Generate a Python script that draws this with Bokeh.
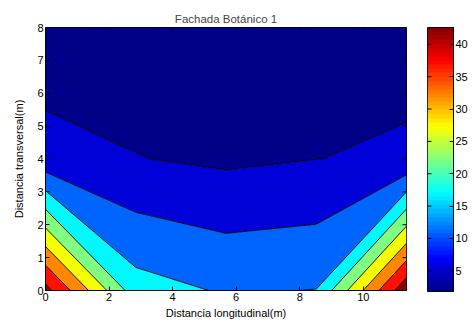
import numpy as np
from bokeh.plotting import figure
from bokeh.layouts import row
from bokeh.models import Range1d, FixedTicker, LinearColorMapper
from bokeh.embed import file_html
from bokeh.resources import INLINE

# ---- data ----
x_pos = [0.0, 2.84, 5.68, 8.52, 11.36]          # longitudinal positions (m)
y_pos = [0.0, 4.0, 8.0]                           # transversal positions (m)
z_y0 = [41.8, 17.1, 14.5, 15.11, 43.8]
z_y4 = [6.5, 5.16, 4.14, 4.97, 5.4]
z_y8 = [2.43, 1.8, 2.1, 2.4, 3.95]
levels = [1.0, 5, 10, 15, 20, 25, 30, 35, 40, 45]
fill_colors = ["#000088", "#0000d8", "#0064ff", "#00f8ff", "#80ff80",
               "#f4ff00", "#ff8800", "#ff1000", "#880000"]
x_ticks = [0, 2, 4, 6, 8, 10]
y_ticks = [0, 1, 2, 3, 4, 5, 6, 7, 8]
cbar_min, cbar_max = 1.8, 42.6
cbar_ticks = [5, 10, 15, 20, 25, 30, 35, 40]

FONT = "Liberation Sans"
FS = "11px"

def jet(n):
    cols = []
    for i in range(n):
        t = (i + 0.5) / n
        r = min(max(1.5 - abs(4 * t - 3), 0), 1)
        g = min(max(1.5 - abs(4 * t - 2), 0), 1)
        b = min(max(1.5 - abs(4 * t - 1), 0), 1)
        cols.append("#%02x%02x%02x" % (int(r * 255), int(g * 255), int(b * 255)))
    return cols

def style_axis(ax, ticks):
    ax.ticker = FixedTicker(ticks=ticks)
    ax.major_tick_in = 4
    ax.major_tick_out = 0
    ax.minor_tick_line_color = None
    ax.axis_line_color = "black"
    ax.major_tick_line_color = "black"
    ax.major_label_text_font = FONT
    ax.major_label_text_color = "black"
    ax.major_label_text_font_size = FS
    ax.major_label_standoff = 2
    ax.axis_label_text_font = FONT
    ax.axis_label_text_font_size = FS
    ax.axis_label_text_font_style = "normal"
    ax.axis_label_text_color = "black"

Z = np.array([z_y0, z_y4, z_y8])
x0, x1 = x_pos[0], x_pos[-1]
y0, y1 = y_pos[0], y_pos[-1]

p = figure(frame_width=361, frame_height=263,
           x_range=Range1d(x0, x1), y_range=Range1d(y0, y1),
           output_backend="svg", toolbar_location=None,
           title="Fachada Botánico 1",
           min_border_left=45, min_border_top=27, min_border_right=10, min_border_bottom=28)
p.title.text_font = FONT
p.title.text_font_size = "11.5px"
p.title.text_font_style = "normal"
p.title.align = "center"
p.title.standoff = 6
p.grid.visible = False
p.outline_line_color = "black"
p.background_fill_color = "white"
p.border_fill_color = "white"

p.contour(np.array(x_pos), np.array(y_pos), Z, levels,
          fill_color=fill_colors, line_color="black", line_width=0.9)

style_axis(p.xaxis[0], x_ticks)
p.xaxis[0].axis_label = "Distancia longitudinal(m)"
p.xaxis[0].axis_label_standoff = 3
style_axis(p.yaxis[0], y_ticks)
p.yaxis[0].axis_label = "Distancia transversal(m)"
p.yaxis[0].axis_label_standoff = 9

# mirrored inward ticks on top and right edges of the box
p.scatter(x=x_ticks, y=[y1] * len(x_ticks), marker="dash", size=8,
          angle=np.pi / 2, line_color="black", line_width=1)
p.scatter(x=[x1] * len(y_ticks), y=y_ticks, marker="dash", size=8,
          line_color="black", line_width=1)

# ---- colorbar ----
cb = figure(frame_width=26, frame_height=264,
            x_range=Range1d(0, 1), y_range=Range1d(cbar_min, cbar_max),
            output_backend="svg", toolbar_location=None, y_axis_location="right",
            min_border_left=11, min_border_top=27, min_border_right=4, min_border_bottom=28)
cb.grid.visible = False
cb.xaxis.visible = False
cb.outline_line_color = "black"
cb.border_fill_color = "white"
mapper = LinearColorMapper(palette=jet(64), low=cbar_min, high=cbar_max)
grad = np.linspace(cbar_min, cbar_max, 256).reshape(-1, 1)
cb.image(image=[grad], x=0, y=cbar_min, dw=1, dh=cbar_max - cbar_min, color_mapper=mapper)
style_axis(cb.yaxis[0], cbar_ticks)
cb.scatter(x=[0] * len(cbar_ticks), y=cbar_ticks, marker="dash", size=8,
           line_color="black", line_width=1)

layout = row(p, cb)
open("out.html", "w").write(file_html(layout, INLINE))
